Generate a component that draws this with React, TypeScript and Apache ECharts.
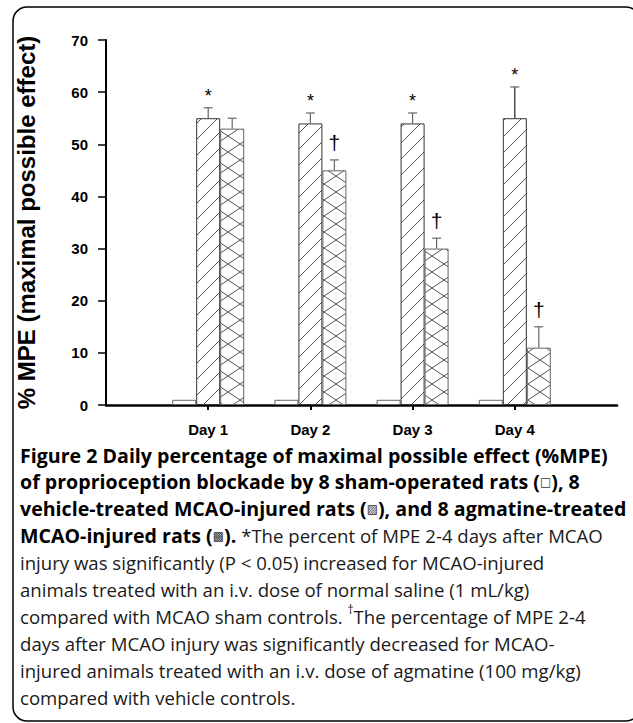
import React, { useEffect, useRef } from "react";
import * as echarts from "echarts";

const days = ["Day 1", "Day 2", "Day 3", "Day 4"];
const shamValues = [1, 1, 1, 1];
const vehicleValues = [55, 54, 54, 55];
const vehicleErrors = [2, 2, 2, 6];
const agmatineValues = [53, 45, 30, 11];
const agmatineErrors = [2, 2, 2, 4];
const vehicleMarks = ["*", "*", "*", "*"];
const agmatineMarks = ["", "†", "†", "†"];
const yTicks = [0, 10, 20, 30, 40, 50, 60, 70];

const captionLines: { t: string; s: string }[][] = [
  [{ t: "Figure 2 Daily percentage of maximal possible effect (%MPE)", s: "b" }],
  [{ t: "of proprioception blockade by 8 sham-operated rats (", s: "b" }, { t: "□", s: "sym" }, { t: "), 8", s: "b" }],
  [{ t: "vehicle-treated MCAO-injured rats (", s: "b" }, { t: "▨", s: "sym" }, { t: "), and 8 agmatine-treated", s: "b" }],
  [
    { t: "MCAO-injured rats (", s: "b" },
    { t: "▩", s: "sym" },
    { t: ").", s: "b" },
    { t: " *The percent of MPE 2-4 days after MCAO", s: "n" },
  ],
  [{ t: "injury was significantly (P < 0.05) increased for MCAO-injured", s: "n" }],
  [{ t: "animals treated with an i.v. dose of normal saline (1 mL/kg)", s: "n" }],
  [
    { t: "compared with MCAO sham controls. ", s: "n" },
    { t: "†", s: "sup" },
    { t: "The percentage of MPE 2-4", s: "n" },
  ],
  [{ t: "days after MCAO injury was significantly decreased for MCAO-", s: "n" }],
  [{ t: "injured animals treated with an i.v. dose of agmatine (100 mg/kg)", s: "n" }],
  [{ t: "compared with vehicle controls.", s: "n" }],
];

function makeHatch(): HTMLCanvasElement {
  const c = document.createElement("canvas");
  c.width = 16;
  c.height = 16;
  const ctx = c.getContext("2d")!;
  ctx.fillStyle = "#fff";
  ctx.fillRect(0, 0, 16, 16);
  ctx.strokeStyle = "#555";
  ctx.lineWidth = 1;
  for (let k = -1; k <= 1; k++) {
    ctx.beginPath();
    ctx.moveTo(k * 16, 16);
    ctx.lineTo(k * 16 + 16, 0);
    ctx.stroke();
  }
  return c;
}

function makeCross(): HTMLCanvasElement {
  const c = document.createElement("canvas");
  c.width = 24;
  c.height = 16;
  const ctx = c.getContext("2d")!;
  ctx.fillStyle = "#fff";
  ctx.fillRect(0, 0, 24, 16);
  ctx.strokeStyle = "#555";
  ctx.lineWidth = 1;
  for (let k = -1; k <= 1; k++) {
    ctx.beginPath();
    ctx.moveTo(k * 24, 0);
    ctx.lineTo(k * 24 + 24, 16);
    ctx.moveTo(k * 24, 16);
    ctx.lineTo(k * 24 + 24, 0);
    ctx.stroke();
  }
  return c;
}

export default function App() {
  const ref = useRef<HTMLDivElement>(null);
  useEffect(() => {
    document.body.style.margin = "0";
    const chart = echarts.init(ref.current!, null, { renderer: "svg" });
    const cats = ["", ...days, ""];
    const pad = (arr: any[]) => [null, ...arr, null];
    const barW = 24;

    const errData: any[] = [];
    days.forEach((d, i) => {
      errData.push([i + 1, vehicleValues[i], vehicleErrors[i], 0, vehicleMarks[i]]);
      errData.push([i + 1, agmatineValues[i], agmatineErrors[i], 1, agmatineMarks[i]]);
    });

    const captionGraphics: any[] = captionLines.map((line, li) => ({
      type: "text",
      silent: true,
      style: {
        x: 20,
        y: 455 + li * 26.9,
        verticalAlign: "middle",
        text: line.map((seg) => `{${seg.s}|${seg.t.replace(/[{}|]/g, "")}}`).join(""),
        rich: {
          b: { fontFamily: "Open Sans", fontWeight: "bold", fontSize: 19.6, fill: "#000", lineHeight: 26 },
          n: { fontFamily: "Open Sans", fontWeight: "normal", fontSize: 18.6, fill: "#1a1a1a", lineHeight: 26 },
          sym: { fontFamily: "DejaVu Sans", fontSize: 12, fill: "#333", lineHeight: 26 },
          sup: { fontFamily: "Open Sans", fontSize: 12, fill: "#1a1a1a", lineHeight: 26, verticalAlign: "top" },
        },
      },
    }));

    chart.setOption({
      animation: false,
      backgroundColor: "#fff",
      grid: { left: 106, right: 16, top: 40, bottom: 318, containLabel: false },
      xAxis: {
        type: "category",
        data: cats,
        boundaryGap: false,
        axisLine: { lineStyle: { color: "#000", width: 2.5 } },
        axisTick: {
          show: true,
          interval: (index: number, value: string) => value !== "",
          length: 5,
          inside: false,
          lineStyle: { color: "#000", width: 2 },
        },
        axisLabel: {
          interval: 0,
          margin: 17,
          fontFamily: "Liberation Sans",
          fontWeight: "bold",
          fontSize: 15,
          color: "#000",
        },
        splitLine: { show: false },
      },
      yAxis: {
        type: "value",
        min: 0,
        max: 70,
        interval: 10,
        name: "% MPE (maximal possible effect)",
        nameLocation: "middle",
        nameGap: 68,
        nameRotate: 90,
        nameTextStyle: { fontFamily: "Liberation Sans", fontWeight: "bold", fontSize: 24, color: "#000" },
        axisLine: { show: true, lineStyle: { color: "#000", width: 2 } },
        axisTick: { show: true, length: 8, lineStyle: { color: "#000", width: 1.5 } },
        axisLabel: {
          margin: 18,
          fontFamily: "Liberation Sans",
          fontWeight: "bold",
          fontSize: 15,
          color: "#000",
          formatter: (v: number) => (yTicks.includes(v) ? String(v) : ""),
        },
        splitLine: { show: false },
      },
      series: [
        {
          name: "Sham",
          type: "bar",
          barWidth: barW,
          barGap: "0%",
          data: pad(shamValues),
          itemStyle: { color: "#fff", borderColor: "#666", borderWidth: 1 },
        },
        {
          name: "Vehicle",
          type: "bar",
          barWidth: barW,
          barGap: "0%",
          data: pad(vehicleValues),
          itemStyle: {
            color: { image: makeHatch(), repeat: "repeat" } as any,
            borderColor: "#333",
            borderWidth: 1,
          },
        },
        {
          name: "Agmatine",
          type: "bar",
          barWidth: barW,
          barGap: "0%",
          data: pad(agmatineValues),
          itemStyle: {
            color: { image: makeCross(), repeat: "repeat" } as any,
            borderColor: "#666",
            borderWidth: 1,
          },
        },
        {
          name: "errors",
          type: "custom",
          data: errData,
          z: 5,
          renderItem: (params: any, api: any) => {
            const idx = api.value(0);
            const mean = api.value(1);
            const err = api.value(2);
            const which = api.value(3);
            const mark = errData[params.dataIndex][4];
            const base = api.coord([idx, mean]);
            const top = api.coord([idx, mean + err]);
            const x = base[0] + (which === 1 ? barW : 0);
            const children: any[] = [
              {
                type: "line",
                shape: { x1: x, y1: base[1], x2: x, y2: top[1] },
                style: { stroke: which === 0 && err > 4 ? "#222" : "#666", lineWidth: 1.2 },
              },
              {
                type: "line",
                shape: { x1: x - 4.5, y1: top[1], x2: x + 4.5, y2: top[1] },
                style: { stroke: "#666", lineWidth: 1.2 },
              },
            ];
            if (mark === "*") {
              children.push({
                type: "text",
                style: {
                  text: "*",
                  x: x,
                  y: top[1] - 3,
                  align: "center",
                  verticalAlign: "bottom",
                  fontFamily: "Liberation Sans",
                  fontSize: 18,
                  fill: "#000",
                },
              });
            } else if (mark === "†") {
              children.push({
                type: "text",
                style: {
                  text: "†",
                  x: x,
                  y: top[1] - 7,
                  align: "center",
                  verticalAlign: "bottom",
                  fontFamily: "Liberation Sans",
                  fontSize: 21,
                  fill: "#000",
                },
              });
            }
            return { type: "group", children };
          },
        },
      ],
      graphic: [
        {
          type: "rect",
          silent: true,
          shape: { x: 13, y: 7, width: 627, height: 714, r: 14 },
          style: { fill: "none", stroke: "#000", lineWidth: 1.5 },
          z: 0,
        },
        ...captionGraphics,
      ],
    });
    return () => chart.dispose();
  }, []);
  return <div ref={ref} style={{ width: 633, height: 723, position: "absolute", left: 0, top: 0 }} />;
}
